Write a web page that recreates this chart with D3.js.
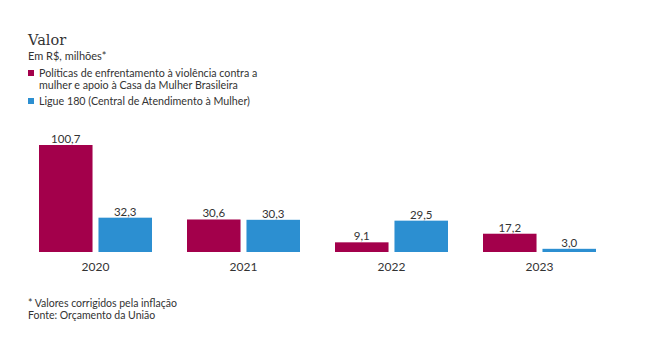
<!DOCTYPE html>
<html lang="pt">
<head>
<meta charset="UTF-8">
<title>Valor</title>
<style>
  body { margin: 0; background: #fff; }
  svg text { font-family: Lato, "Noto Sans", sans-serif; fill: #333; }
</style>
<script src="https://d3js.org/d3.v7.min.js"></script>
</head>
<body>
<script>
var years = ["2020", "2021", "2022", "2023"];
var seriesNames = [
  "Políticas de enfrentamento à violência contra a mulher e apoio à Casa da Mulher Brasileira",
  "Ligue 180 (Central de Atendimento à Mulher)"
];
var politicas = [100.7, 30.6, 9.1, 17.2];
var ligue180 = [32.3, 30.3, 29.5, 3.0];
var colors = ["#a3004b", "#2c8fd1"];

var width = 651, height = 363;
var baseline = 252;

var svg = d3.select("body").append("svg")
  .attr("width", width)
  .attr("height", height);

// title + subtitle
svg.append("text").attr("x", 28).attr("y", 45)
  .style("font-family", "'DejaVu Serif', serif")
  .style("font-size", "14.5px")
  .text("Valor");
svg.append("text").attr("x", 28).attr("y", 60)
  .style("font-size", "11px")
  .text("Em R$, milhões*");

// legend
var legendLines = [
  ["Políticas de enfrentamento à violência contra a", "mulher e apoio à Casa da Mulher Brasileira"],
  ["Ligue 180 (Central de Atendimento à Mulher)"]
];
var legendY = [77, 105];
legendLines.forEach(function(lines, i) {
  svg.append("rect").attr("x", 28).attr("y", legendY[i] - 7)
    .attr("width", 6).attr("height", 6).attr("fill", colors[i]);
  var t = svg.append("text").attr("x", 39).attr("y", legendY[i])
    .style("font-size", "10.7px");
  lines.forEach(function(l, j) {
    t.append("tspan").attr("x", 39).attr("dy", j ? 12 : 0).text(l);
  });
});

var data = years.map(function(y, i) {
  return { year: y, values: [politicas[i], ligue180[i]] };
});

var x0 = d3.scaleBand().domain(years).range([39, 596]).paddingInner(0.2365).paddingOuter(0);
var x1 = d3.scaleBand().domain([0, 1]).range([0, x0.bandwidth()]).paddingInner(0.1);
var y = d3.scaleLinear().domain([0, 100.7]).range([baseline, 145]);

var groups = svg.selectAll("g.year")
  .data(data)
  .enter().append("g")
  .attr("class", "year")
  .attr("transform", d => "translate(" + x0(d.year) + ",0)");

groups.selectAll("rect")
  .data(d => d.values)
  .enter().append("rect")
  .attr("x", (d, i) => x1(i))
  .attr("y", d => y(d))
  .attr("width", x1.bandwidth())
  .attr("height", d => baseline - y(d))
  .attr("fill", (d, i) => colors[i]);

groups.selectAll("text.val")
  .data(d => d.values)
  .enter().append("text")
  .attr("class", "val")
  .attr("x", (d, i) => x1(i) + x1.bandwidth() / 2)
  .attr("y", d => y(d) - 2)
  .attr("text-anchor", "middle")
  .style("font-size", "11.5px")
  .text(d => d3.format(".1f")(d).replace(".", ","));

// x axis labels
var xAxis = d3.axisBottom(x0).tickSize(0).tickPadding(10);
var ax = svg.append("g").attr("transform", "translate(0," + baseline + ")").call(xAxis);
ax.select(".domain").remove();
ax.selectAll("text")
  .style("font-family", "Lato, 'Noto Sans', sans-serif")
  .style("font-size", "12px")
  .attr("fill", "#333");

// footnotes
svg.append("text").attr("x", 28).attr("y", 307)
  .style("font-size", "10.5px")
  .text("* Valores corrigidos pela inflação");
svg.append("text").attr("x", 28).attr("y", 319)
  .style("font-size", "10.5px")
  .text("Fonte: Orçamento da União");
</script>
</body>
</html>
